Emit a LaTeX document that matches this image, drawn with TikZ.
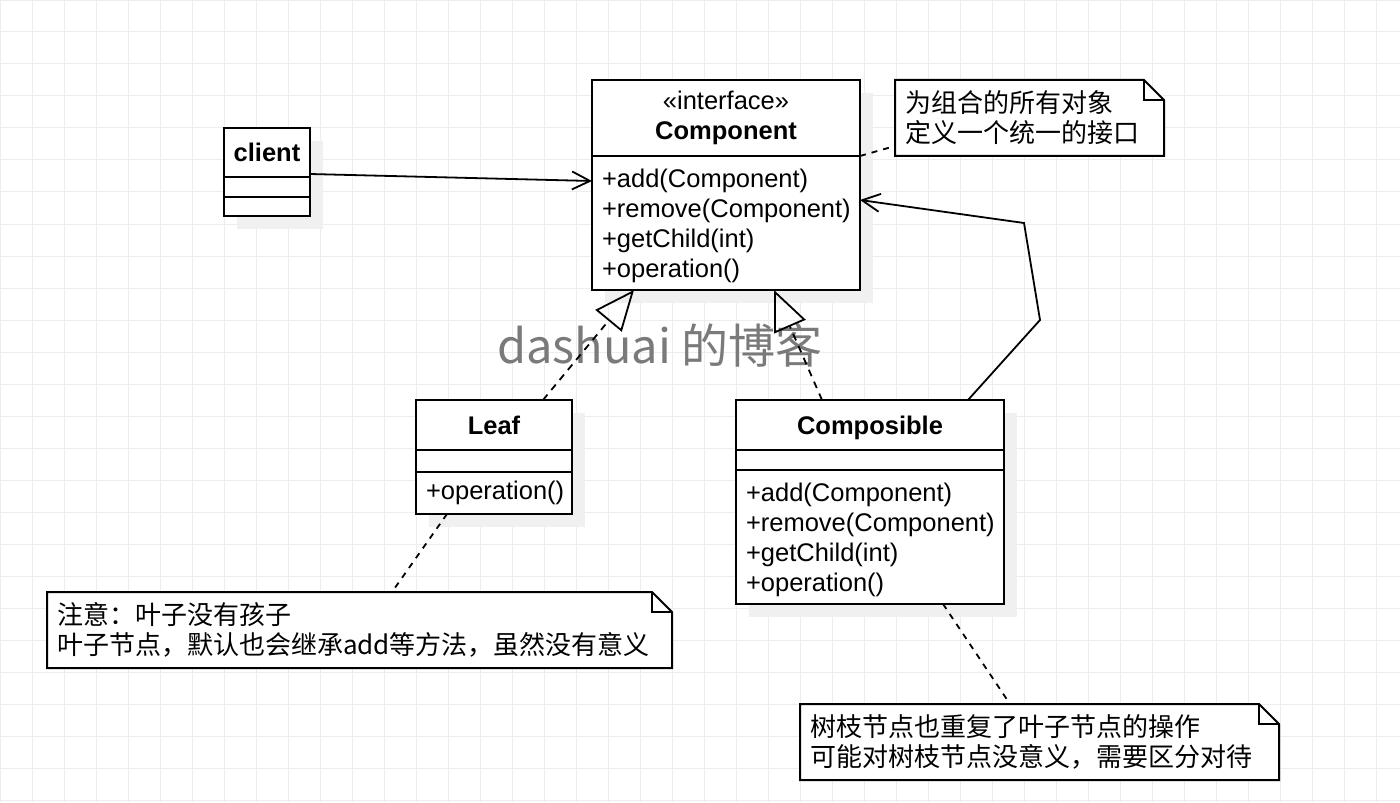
\documentclass[tikz,border=0pt]{standalone}
\usepackage{fontspec}
\setmainfont{Liberation Sans}
\newfontfamily\cjk{Noto Sans CJK SC}
\usepackage{tikz}
\usetikzlibrary{positioning, shadows, backgrounds}
\usetikzlibrary {arrows.meta}

\newcommand{\umlfont}{\fontsize{12.75}{15}\selectfont}
\newcommand{\notefold}[1]{%
  \begin{scope}[on background layer]
    \filldraw[noteline] (#1.north west) -- ([xshift=-10pt]#1.north east) -- ([yshift=-10pt]#1.north east) -- (#1.south east) -- (#1.south west) -- cycle;
    \draw[noteline, fill=none] ([xshift=-10pt]#1.north east) |- ([yshift=-10pt]#1.north east);
  \end{scope}}

\tikzset{
  umlbox/.style={draw, fill=white, line width=1pt, outer sep=0pt, inner sep=0pt, font=\umlfont,
    drop shadow={shadow xshift=6.5pt, shadow yshift=-6.5pt, fill=black!6, opacity=1}},
  umlname/.style={umlbox, font=\umlfont\bfseries, text depth=0pt},
  umlops/.style={umlbox, inner xsep=5pt, align=left},
  opslist/.style={umlops, text width=124pt, minimum height=67pt, execute at begin node={\rule{0pt}{12pt}}},
  notebox/.style={inner xsep=5pt, inner ysep=0pt, outer sep=0pt, font=\cjk\fontsize{13}{15}\selectfont, align=left, anchor=north west, minimum height=38pt},
  noteline/.style={draw=black, fill=white, line width=1pt},
  gridline/.style={draw=black!7, line width=0.5pt, step=16pt},
  realize/.style={line width=0.9pt, dash pattern=on 3.5pt off 3pt, -{Triangle[open, length=20pt, width=17pt]}},
  assoc/.style={line width=0.9pt, -{Straight Barb[length=9pt, width=9pt]}},
  anchorline/.style={line width=0.9pt, dash pattern=on 3pt off 3pt},
}

\begin{document}
\begin{tikzpicture}[x=0.5pt, y=-0.5pt]
        \useasboundingbox (0,0) rectangle (1400,802);
        \begin{scope}[on background layer]
          \fill[white] (0,0) rectangle (1400,802);
          \draw[gridline] (0,0) grid (1400,802);
        \end{scope}

        \node[umlname, anchor=north west, minimum width=43pt, minimum height=24.5pt] (client) at (224,128) {client};
        \node[umlbox, below=0pt of client, minimum width=43pt, minimum height=10pt] (clientattr) {};
        \node[umlbox, below=0pt of clientattr, minimum width=43pt, minimum height=9.5pt] (clientops) {};

        \node[umlbox, align=center, anchor=north west, minimum width=134pt, minimum height=38pt] (comphead) at (592,80) {«interface»\\\textbf{Component}};
        \node[opslist, below=0pt of comphead] (compops) {+add(Component)\\+remove(Component)\\+getChild(int)\\+operation()};

        \node[umlname, anchor=north west, minimum width=78pt, minimum height=25pt] (leaf) at (416,400) {Leaf};
        \node[umlbox, below=0pt of leaf, minimum width=78pt, minimum height=11pt] (leafattr) {};
        \node[umlops, below=0pt of leafattr, text width=68pt, minimum height=21pt] (leafops) {+operation()};

        \node[umlname, anchor=north west, minimum width=134pt, minimum height=25pt] (composible) at (736,400) {Composible};
        \node[umlbox, below=0pt of composible, minimum width=134pt, minimum height=10pt] (composattr) {};
        \node[opslist, below=0pt of composattr] (composops) {+add(Component)\\+remove(Component)\\+getChild(int)\\+operation()};

        \node[notebox, text width=124.5pt] (compnote) at (895,80) {为组合的所有对象\\定义一个统一的接口};
        \node[notebox, text width=302.5pt] (leafnote) at (47,592) {注意：叶子没有孩子\\叶子节点，默认也会继承add等方法，虽然没有意义};
        \node[notebox, text width=229.5pt] (composnote) at (800,704) {树枝节点也重复了叶子节点的操作\\可能对树枝节点没意义，需要区分对待};
        \notefold{compnote}
        \notefold{leafnote}
        \notefold{composnote}

        \node[font=\cjk\fontsize{23.5}{28}\selectfont, text=black!52, anchor=base] (blogmark) at (660,363) {dashuai 的博客};

        \coordinate (turnlow) at (1040,320);
        \coordinate (turnhigh) at (1024,223);

        \draw[assoc] ([yshift=1.5pt]client.south east) -- ([yshift=-12.5pt]compops.north west);
        \draw[anchorline] (comphead.south east) -- ([yshift=5pt]compnote.south west);
        \draw[realize] ([xshift=-14.5pt]leaf.north east) -- ([xshift=21pt]compops.south west);
        \draw[realize] ([xshift=43pt]composible.north west) -- ([xshift=91pt]compops.south west);
        \draw[assoc] ([xshift=-18pt]composible.north east) -- (turnlow) -- (turnhigh) -- ([yshift=-22pt]compops.north east);
        \draw[anchorline] ([xshift=15.5pt]leafops.south west) -- ([xshift=172.5pt]leafnote.north west);
        \draw[anchorline] ([xshift=103.5pt]composops.south west) -- ([xshift=105pt]composnote.north west);

      \end{tikzpicture}
\end{document}
